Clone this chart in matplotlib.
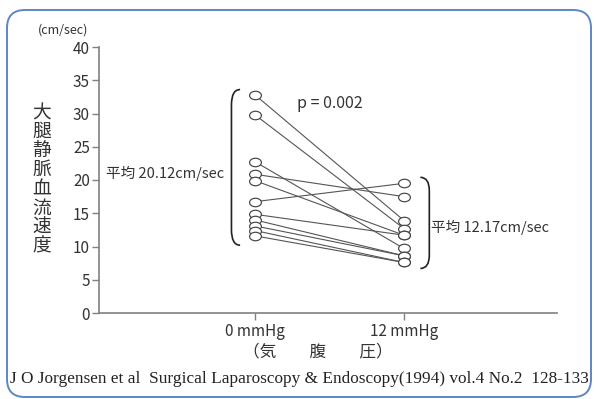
import matplotlib
matplotlib.use("Agg")
import matplotlib.pyplot as plt
from matplotlib.path import Path
from matplotlib.patches import PathPatch, FancyBboxPatch
import numpy as np

# ---- data ----
conditions = ["0 mmHg", "12 mmHg"]
before = [32.8, 29.8, 22.75, 20.86, 19.9, 16.74, 14.84, 14.0, 13.1, 12.4, 11.6]
after = [13.9, 12.7, 9.7, 17.5, 11.7, 19.5, 11.7, 8.6, 8.6, 7.6, 7.6]
yticks = [0, 5, 10, 15, 20, 25, 30, 35, 40]
ylabel_chars = list("大腿静脈血流速度")
unit_label = "(cm/sec)"
mean_before_label = "平均 20.12cm/sec"
mean_after_label = "平均 12.17cm/sec"
p_label = "p = 0.002"
xlabel = "（気　　腹　　圧）"
citation = "J O Jorgensen et al  Surgical Laparoscopy & Endoscopy(1994) vol.4 No.2  128-133"

plt.rcParams['font.family'] = ['Noto Sans CJK JP', 'DejaVu Sans']

W, H = 598, 399
fig = plt.figure(figsize=(W / 100, H / 100), dpi=100)
fig.patch.set_facecolor("white")

def fx(x):
    return x / W

def fy(y):
    return 1 - y / H

# rounded frame
frame = FancyBboxPatch((fx(7), fy(397)), fx(591) - fx(7), fy(10) - fy(397),
                       boxstyle="round,pad=0,rounding_size=0.03",
                       transform=fig.transFigure, facecolor="none",
                       edgecolor="#5f86c4", linewidth=1.4, zorder=-1,
                       mutation_aspect=W / H)
fig.patches.append(frame)

ax = fig.add_axes([fx(99), fy(313), fx(557) - fx(99), fy(47) - fy(313)])
ax.set_facecolor("none")
ax.set_xlim(-1.047, 2.027)
ax.set_ylim(0, 40)
for s in ["top", "right"]:
    ax.spines[s].set_visible(False)
for s in ["left", "bottom"]:
    ax.spines[s].set_color("#808080")
    ax.spines[s].set_linewidth(1.2)
ax.set_yticks(yticks)
ax.set_yticklabels([str(v) for v in yticks])
ax.set_xticks([0, 1])
ax.set_xticklabels(conditions)
ax.tick_params(axis="y", length=5, width=1.0, color="#808080", pad=1.5,
               labelsize=11, labelcolor="#333333")
ax.tick_params(axis="x", length=5, width=1.0, color="#808080", pad=2,
               labelsize=11, labelcolor="#333333")

# ellipse marker
uc = Path.unit_circle()
ell = Path(uc.vertices * np.array([1.0, 0.72]), uc.codes)

for b, a in zip(before, after):
    ax.plot([0, 1], [b, a], color="#555555", lw=0.8, zorder=2,
            solid_capstyle="butt")
ax.plot(np.zeros(len(before)), before, linestyle="none", marker=ell,
        markersize=8.5, markerfacecolor="white", markeredgecolor="#444444",
        markeredgewidth=0.85, zorder=3, clip_on=False)
ax.plot(np.ones(len(after)), after, linestyle="none", marker=ell,
        markersize=8.5, markerfacecolor="white", markeredgecolor="#444444",
        markeredgewidth=0.85, zorder=3, clip_on=False)

def bracket(x_in, x_out, top, bottom, dy):
    verts = [(x_in, top), (x_out, top), (x_out, top - dy),
             (x_out, bottom + dy), (x_out, bottom), (x_in, bottom)]
    codes = [Path.MOVETO, Path.CURVE3, Path.CURVE3, Path.LINETO,
             Path.CURVE3, Path.CURVE3]
    ax.add_patch(PathPatch(Path(verts, codes), facecolor="none",
                           edgecolor="#222222", lw=1.2, clip_on=False, zorder=2))

bracket(-0.10, -0.158, max(before) + 0.8, min(before) - 1.4, 2.3)
bracket(1.11, 1.17, max(after) + 0.9, min(after) - 0.9, 2.0)

# texts
txtc = "#333333"
r = fig.canvas.get_renderer()
fig.text(fx(63), fy(30), unit_label, ha="center", va="center", fontsize=9, color=txtc)

# vertical stacked y label as a single text
pitch_target = 18.4
one = fig.text(0, 0, ylabel_chars[0], fontsize=13.5, linespacing=1.0)
multi = fig.text(0, 0, "\n".join(ylabel_chars), fontsize=13.5, linespacing=1.0)
h1 = one.get_window_extent(r).height
h8 = multi.get_window_extent(r).height
pitch = (h8 - h1) / (len(ylabel_chars) - 1)
one.remove()
multi.remove()
ls = pitch_target / pitch
yl_center = 115 + pitch_target * (len(ylabel_chars) - 1) / 2
fig.text(fx(42), fy(yl_center), "\n".join(ylabel_chars), ha="center", va="center",
         ma="center", fontsize=13.5, color=txtc, linespacing=ls)

fig.text(fx(165), fy(173), mean_before_label, ha="center", va="center",
         fontsize=10.5, color=txtc)
fig.text(fx(490), fy(227), mean_after_label, ha="center", va="center",
         fontsize=10.5, color=txtc)
fig.text(fx(330), fy(104), p_label, ha="center", va="center",
         fontsize=11.5, color=txtc)
fig.text(fx(318), fy(352), xlabel, ha="center", va="center",
         fontsize=12, color=txtc)

ct = fig.text(fx(299), fy(379), citation, ha="center", va="center",
              fontsize=11, color="#222222", family="Liberation Serif")
wpx = ct.get_window_extent(r).width
ct.set_fontsize(11 * 580 / wpx)

fig.savefig("out.png", dpi=100, facecolor="white")
